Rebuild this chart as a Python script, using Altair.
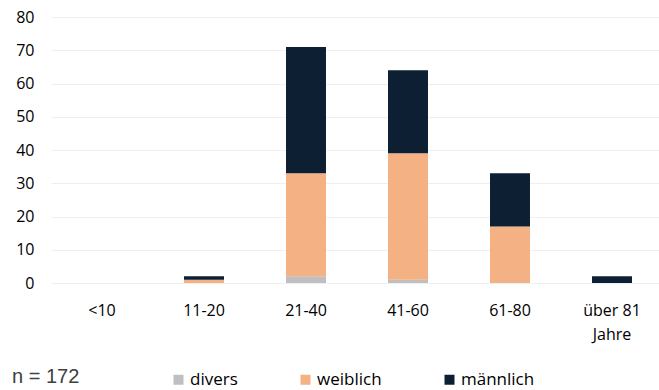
import altair as alt
import pandas as pd

categories = ["<10", "11-20", "21-40", "41-60", "61-80", "über 81 Jahre"]
genders = ["divers", "weiblich", "männlich"]
divers = [0, 0, 2, 1, 0, 0]
weiblich = [0, 1, 31, 38, 17, 0]
maennlich = [0, 1, 38, 25, 16, 2]
colors = ["#BFBFBF", "#F4B183", "#0C1F33"]

rows = []
for i, c in enumerate(categories):
    for k, (g, vals) in enumerate(zip(genders, [divers, weiblich, maennlich])):
        rows.append({"Alter": c, "Geschlecht": g, "Anzahl": vals[i], "ord": k})
df = pd.DataFrame(rows)
n_total = sum(divers) + sum(weiblich) + sum(maennlich)

FONT = "Open Sans"

bars = alt.Chart(df).mark_bar().encode(
    x=alt.X("Alter:N", sort=categories,
            scale=alt.Scale(range=[0, 612], paddingInner=0.608, paddingOuter=0.304),
            axis=alt.Axis(title=None, labelAngle=0, domain=False, ticks=False, grid=False,
                          labelFont=FONT, labelFontSize=16,
                          labelColor="#000000", labelPadding=19, labelLineHeight=24,
                          labelExpr="datum.value == 'über 81 Jahre' ? ['über 81', 'Jahre'] : datum.value")),
    y=alt.Y("Anzahl:Q", stack="zero",
            scale=alt.Scale(domain=[0, 80], nice=False),
            axis=alt.Axis(title=None, values=list(range(0, 81, 10)), domain=False, ticks=False,
                          grid=True, gridColor="#EFEFEF", gridWidth=1,
                          labelFont=FONT, labelFontSize=16,
                          labelColor="#000000", labelPadding=17)),
    color=alt.Color("Geschlecht:N", sort=genders,
                    scale=alt.Scale(domain=genders, range=colors),
                    legend=alt.Legend(title=None, orient="none", legendX=119, legendY=354,
                                      direction="horizontal", symbolType="square",
                                      symbolSize=100, symbolStrokeWidth=0,
                                      labelFont=FONT, labelFontSize=17,
                                      labelColor="#000000",
                                      labelOffset=3, columnPadding=59)),
    order=alt.Order("ord:Q", sort="ascending"),
)

note = alt.Chart(alt.Data(values=[{"t": f"n = {n_total}"}])).mark_text(
    align="left", baseline="middle", font="Liberation Sans", fontSize=20, color="#404040"
).encode(text="t:N", x=alt.value(-39), y=alt.value(360))

chart = alt.layer(bars, note).properties(
    width=606, height=266,
    padding={"left": 51, "top": 17, "right": 2, "bottom": 107},
    autosize=alt.AutoSizeParams(type="none"),
).configure_view(stroke=None)

chart.save("out.html", embed_options={"renderer": "svg", "actions": False})
